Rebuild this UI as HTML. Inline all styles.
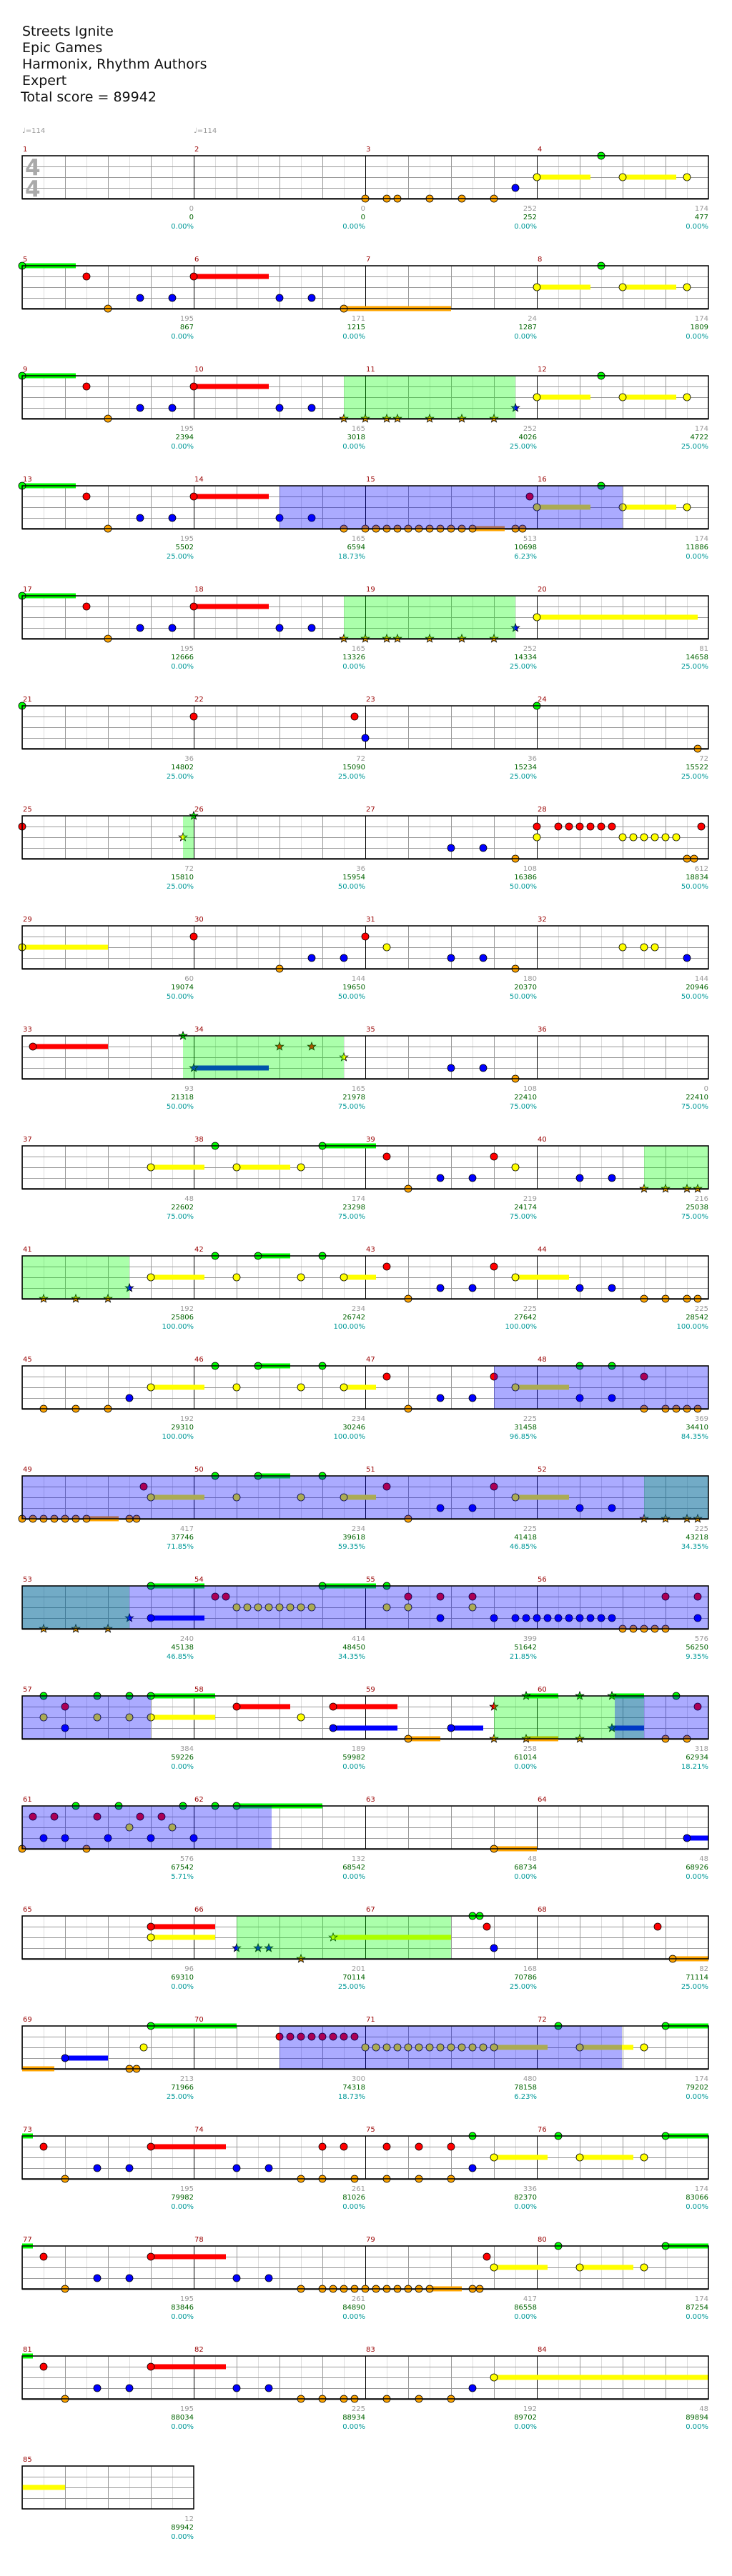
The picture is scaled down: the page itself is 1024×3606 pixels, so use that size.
<!DOCTYPE html>
<html><head><meta charset="utf-8">
<style>
html,body{margin:0;padding:0;background:#fff}
svg{display:block}
text{font-family:"DejaVu Sans","Liberation Sans",sans-serif;font-size:10px}
.t{font-size:19px;fill:#111}
.m{fill:#990000}
.a{fill:#999;text-anchor:end}
.c{fill:#006400;text-anchor:end}
.p{fill:#009999;text-anchor:end}
.g{fill:#00ff00}.r{fill:#ff0000}.y{fill:#ffff00}.b{fill:#0000ff}.o{fill:#ffa500}
circle,use{stroke:#000;stroke-width:0.8}
rect.g,rect.r,rect.y,rect.b,rect.o{stroke:none}
.GA{fill:rgba(0,255,0,0.33)}
.BA{fill:rgba(0,0,255,0.33)}
</style></head><body>
<svg width="1024" height="3606" viewBox="0 0 1024 3606" xmlns="http://www.w3.org/2000/svg">
<defs>
<pattern id="gp" x="31" y="0" width="60" height="15" patternUnits="userSpaceOnUse">
<rect x="30" y="0" width="1" height="15" fill="#ddd"/>
<rect x="0" y="0" width="1" height="15" fill="#999"/>
<rect x="0" y="0" width="60" height="1" fill="#999"/>
</pattern>
<g id="G4"><rect x="31" y="0" width="960" height="61" fill="url(#gp)"/><path d="M271.5 0V60M511.5 0V60M751.5 0V60" stroke="#000" stroke-width="1"/></g>
<rect id="B4" x="31" y="0" width="960" height="60" fill="none" stroke="#000" stroke-width="1.5"/>
<polygon id="s" points="0,-6 1.47,-2.02 5.71,-1.85 2.38,0.77 3.53,4.85 0,2.5 -3.53,4.85 -2.38,0.77 -5.71,-1.85 -1.47,-2.02"/>
</defs>

<text class="t" x="31" y="50">Streets Ignite</text>
<text class="t" x="31" y="73">Epic Games</text>
<text class="t" x="31" y="96">Harmonix, Rhythm Authors</text>
<text class="t" x="31" y="119">Expert</text>
<text class="t" x="29" y="142">Total score = 89942</text>
<text x="31" y="186" fill="#999">♩=114</text>
<text x="271" y="186" fill="#999">♩=114</text>

<!-- Row 0 -->
<g transform="translate(0,218)">
<use href="#G4"/>
<text x="35" y="27" style="font-size:31px;font-weight:bold;fill:#aaa">4</text>
<text x="35" y="57" style="font-size:31px;font-weight:bold;fill:#aaa">4</text>
<rect class="y" x="751" y="26.5" width="75" height="7"/><rect class="y" x="871" y="26.5" width="75" height="7"/>
<circle class="o" cx="511" cy="60" r="5"/><circle class="o" cx="541" cy="60" r="5"/><circle class="o" cx="556" cy="60" r="5"/><circle class="o" cx="601" cy="60" r="5"/><circle class="o" cx="646" cy="60" r="5"/><circle class="o" cx="691" cy="60" r="5"/>
<circle class="b" cx="721" cy="45" r="5"/><circle class="y" cx="751" cy="30" r="5"/><circle class="g" cx="841" cy="0" r="5"/><circle class="y" cx="871" cy="30" r="5"/><circle class="y" cx="961" cy="30" r="5"/>
<use href="#B4"/>
<text class="m" x="32" y="-6">1</text><text class="m" x="272" y="-6">2</text><text class="m" x="512" y="-6">3</text><text class="m" x="752" y="-6">4</text>
<text class="a" x="271" y="77">0</text><text class="c" x="271" y="89">0</text><text class="p" x="271" y="102">0.00%</text>
<text class="a" x="511" y="77">0</text><text class="c" x="511" y="89">0</text><text class="p" x="511" y="102">0.00%</text>
<text class="a" x="751" y="77">252</text><text class="c" x="751" y="89">252</text><text class="p" x="751" y="102">0.00%</text>
<text class="a" x="991" y="77">174</text><text class="c" x="991" y="89">477</text><text class="p" x="991" y="102">0.00%</text>
</g>

<!-- Row 1 -->
<g transform="translate(0,372)">
<use href="#G4"/>
<rect class="g" x="31" y="-3.5" width="75" height="7"/><rect class="r" x="271" y="11.5" width="105" height="7"/><rect class="o" x="481" y="56.5" width="150" height="7"/>
<rect class="y" x="751" y="26.5" width="75" height="7"/><rect class="y" x="871" y="26.5" width="75" height="7"/>
<circle class="g" cx="31" cy="0" r="5"/><circle class="r" cx="121" cy="15" r="5"/><circle class="o" cx="151" cy="60" r="5"/><circle class="b" cx="196" cy="45" r="5"/><circle class="b" cx="241" cy="45" r="5"/>
<circle class="r" cx="271" cy="15" r="5"/><circle class="b" cx="391" cy="45" r="5"/><circle class="b" cx="436" cy="45" r="5"/><circle class="o" cx="481" cy="60" r="5"/>
<circle class="y" cx="751" cy="30" r="5"/><circle class="g" cx="841" cy="0" r="5"/><circle class="y" cx="871" cy="30" r="5"/><circle class="y" cx="961" cy="30" r="5"/>
<use href="#B4"/>
<text class="m" x="32" y="-6">5</text><text class="m" x="272" y="-6">6</text><text class="m" x="512" y="-6">7</text><text class="m" x="752" y="-6">8</text>
<text class="a" x="271" y="77">195</text><text class="c" x="271" y="89">867</text><text class="p" x="271" y="102">0.00%</text>
<text class="a" x="511" y="77">171</text><text class="c" x="511" y="89">1215</text><text class="p" x="511" y="102">0.00%</text>
<text class="a" x="751" y="77">24</text><text class="c" x="751" y="89">1287</text><text class="p" x="751" y="102">0.00%</text>
<text class="a" x="991" y="77">174</text><text class="c" x="991" y="89">1809</text><text class="p" x="991" y="102">0.00%</text>
</g>

<!-- Row 2 -->
<g transform="translate(0,526)">
<use href="#G4"/>
<rect class="g" x="31" y="-3.5" width="75" height="7"/><rect class="r" x="271" y="11.5" width="105" height="7"/>
<rect class="y" x="751" y="26.5" width="75" height="7"/><rect class="y" x="871" y="26.5" width="75" height="7"/>
<circle class="g" cx="31" cy="0" r="5"/><circle class="r" cx="121" cy="15" r="5"/><circle class="o" cx="151" cy="60" r="5"/><circle class="b" cx="196" cy="45" r="5"/><circle class="b" cx="241" cy="45" r="5"/>
<circle class="r" cx="271" cy="15" r="5"/><circle class="b" cx="391" cy="45" r="5"/><circle class="b" cx="436" cy="45" r="5"/>
<use href="#s" class="o" x="481" y="60"/><use href="#s" class="o" x="511" y="60"/><use href="#s" class="o" x="541" y="60"/><use href="#s" class="o" x="556" y="60"/><use href="#s" class="o" x="601" y="60"/><use href="#s" class="o" x="646" y="60"/><use href="#s" class="o" x="691" y="60"/><use href="#s" class="b" x="721" y="45"/>
<circle class="y" cx="751" cy="30" r="5"/><circle class="g" cx="841" cy="0" r="5"/><circle class="y" cx="871" cy="30" r="5"/><circle class="y" cx="961" cy="30" r="5"/>
<rect class="GA" x="481" y="0" width="240" height="60"/>
<use href="#B4"/>
<text class="m" x="32" y="-6">9</text><text class="m" x="272" y="-6">10</text><text class="m" x="512" y="-6">11</text><text class="m" x="752" y="-6">12</text>
<text class="a" x="271" y="77">195</text><text class="c" x="271" y="89">2394</text><text class="p" x="271" y="102">0.00%</text>
<text class="a" x="511" y="77">165</text><text class="c" x="511" y="89">3018</text><text class="p" x="511" y="102">0.00%</text>
<text class="a" x="751" y="77">252</text><text class="c" x="751" y="89">4026</text><text class="p" x="751" y="102">25.00%</text>
<text class="a" x="991" y="77">174</text><text class="c" x="991" y="89">4722</text><text class="p" x="991" y="102">25.00%</text>
</g>

<!-- Row 3 -->
<g transform="translate(0,680)">
<use href="#G4"/>
<rect class="g" x="31" y="-3.5" width="75" height="7"/><rect class="r" x="271" y="11.5" width="105" height="7"/><rect class="o" x="661" y="56.5" width="45" height="7"/>
<rect class="y" x="751" y="26.5" width="75" height="7"/><rect class="y" x="871" y="26.5" width="75" height="7"/>
<circle class="g" cx="31" cy="0" r="5"/><circle class="r" cx="121" cy="15" r="5"/><circle class="o" cx="151" cy="60" r="5"/><circle class="b" cx="196" cy="45" r="5"/><circle class="b" cx="241" cy="45" r="5"/>
<circle class="r" cx="271" cy="15" r="5"/><circle class="b" cx="391" cy="45" r="5"/><circle class="b" cx="436" cy="45" r="5"/>
<circle class="o" cx="481" cy="60" r="5"/><circle class="o" cx="511" cy="60" r="5"/><circle class="o" cx="526" cy="60" r="5"/><circle class="o" cx="541" cy="60" r="5"/><circle class="o" cx="556" cy="60" r="5"/><circle class="o" cx="571" cy="60" r="5"/><circle class="o" cx="586" cy="60" r="5"/><circle class="o" cx="601" cy="60" r="5"/><circle class="o" cx="616" cy="60" r="5"/><circle class="o" cx="631" cy="60" r="5"/><circle class="o" cx="646" cy="60" r="5"/><circle class="o" cx="661" cy="60" r="5"/><circle class="o" cx="721" cy="60" r="5"/><circle class="o" cx="731" cy="60" r="5"/>
<circle class="r" cx="741" cy="15" r="5"/>
<circle class="y" cx="751" cy="30" r="5"/><circle class="g" cx="841" cy="0" r="5"/><circle class="y" cx="871" cy="30" r="5"/><circle class="y" cx="961" cy="30" r="5"/>
<rect class="BA" x="391" y="0" width="480" height="60"/>
<use href="#B4"/>
<text class="m" x="32" y="-6">13</text><text class="m" x="272" y="-6">14</text><text class="m" x="512" y="-6">15</text><text class="m" x="752" y="-6">16</text>
<text class="a" x="271" y="77">195</text><text class="c" x="271" y="89">5502</text><text class="p" x="271" y="102">25.00%</text>
<text class="a" x="511" y="77">165</text><text class="c" x="511" y="89">6594</text><text class="p" x="511" y="102">18.73%</text>
<text class="a" x="751" y="77">513</text><text class="c" x="751" y="89">10698</text><text class="p" x="751" y="102">6.23%</text>
<text class="a" x="991" y="77">174</text><text class="c" x="991" y="89">11886</text><text class="p" x="991" y="102">0.00%</text>
</g>

<!-- Row 4 -->
<g transform="translate(0,834)">
<use href="#G4"/>
<rect class="g" x="31" y="-3.5" width="75" height="7"/><rect class="r" x="271" y="11.5" width="105" height="7"/>
<rect class="y" x="751" y="26.5" width="225" height="7"/>
<circle class="g" cx="31" cy="0" r="5"/><circle class="r" cx="121" cy="15" r="5"/><circle class="o" cx="151" cy="60" r="5"/><circle class="b" cx="196" cy="45" r="5"/><circle class="b" cx="241" cy="45" r="5"/>
<circle class="r" cx="271" cy="15" r="5"/><circle class="b" cx="391" cy="45" r="5"/><circle class="b" cx="436" cy="45" r="5"/>
<use href="#s" class="o" x="481" y="60"/><use href="#s" class="o" x="511" y="60"/><use href="#s" class="o" x="541" y="60"/><use href="#s" class="o" x="556" y="60"/><use href="#s" class="o" x="601" y="60"/><use href="#s" class="o" x="646" y="60"/><use href="#s" class="o" x="691" y="60"/><use href="#s" class="b" x="721" y="45"/>
<circle class="y" cx="751" cy="30" r="5"/>
<rect class="GA" x="481" y="0" width="240" height="60"/>
<use href="#B4"/>
<text class="m" x="32" y="-6">17</text><text class="m" x="272" y="-6">18</text><text class="m" x="512" y="-6">19</text><text class="m" x="752" y="-6">20</text>
<text class="a" x="271" y="77">195</text><text class="c" x="271" y="89">12666</text><text class="p" x="271" y="102">0.00%</text>
<text class="a" x="511" y="77">165</text><text class="c" x="511" y="89">13326</text><text class="p" x="511" y="102">0.00%</text>
<text class="a" x="751" y="77">252</text><text class="c" x="751" y="89">14334</text><text class="p" x="751" y="102">25.00%</text>
<text class="a" x="991" y="77">81</text><text class="c" x="991" y="89">14658</text><text class="p" x="991" y="102">25.00%</text>
</g>

<!-- Row 5 -->
<g transform="translate(0,988)">
<use href="#G4"/>
<circle class="g" cx="31" cy="0" r="5"/><circle class="r" cx="271" cy="15" r="5"/><circle class="r" cx="496" cy="15" r="5"/><circle class="b" cx="511" cy="45" r="5"/><circle class="g" cx="751" cy="0" r="5"/><circle class="o" cx="976" cy="60" r="5"/>
<use href="#B4"/>
<text class="m" x="32" y="-6">21</text><text class="m" x="272" y="-6">22</text><text class="m" x="512" y="-6">23</text><text class="m" x="752" y="-6">24</text>
<text class="a" x="271" y="77">36</text><text class="c" x="271" y="89">14802</text><text class="p" x="271" y="102">25.00%</text>
<text class="a" x="511" y="77">72</text><text class="c" x="511" y="89">15090</text><text class="p" x="511" y="102">25.00%</text>
<text class="a" x="751" y="77">36</text><text class="c" x="751" y="89">15234</text><text class="p" x="751" y="102">25.00%</text>
<text class="a" x="991" y="77">72</text><text class="c" x="991" y="89">15522</text><text class="p" x="991" y="102">25.00%</text>
</g>

<!-- Row 6 -->
<g transform="translate(0,1142)">
<use href="#G4"/>
<circle class="r" cx="31" cy="15" r="5"/>
<use href="#s" class="y" x="256" y="30"/><use href="#s" class="g" x="271" y="0"/>
<circle class="b" cx="631" cy="45" r="5"/><circle class="b" cx="676" cy="45" r="5"/><circle class="o" cx="721" cy="60" r="5"/>
<circle class="r" cx="751" cy="15" r="5"/><circle class="r" cx="781" cy="15" r="5"/><circle class="r" cx="796" cy="15" r="5"/><circle class="r" cx="811" cy="15" r="5"/><circle class="r" cx="826" cy="15" r="5"/><circle class="r" cx="841" cy="15" r="5"/><circle class="r" cx="856" cy="15" r="5"/><circle class="r" cx="981" cy="15" r="5"/>
<circle class="y" cx="751" cy="30" r="5"/><circle class="y" cx="871" cy="30" r="5"/><circle class="y" cx="886" cy="30" r="5"/><circle class="y" cx="901" cy="30" r="5"/><circle class="y" cx="916" cy="30" r="5"/><circle class="y" cx="931" cy="30" r="5"/><circle class="y" cx="946" cy="30" r="5"/>
<circle class="o" cx="961" cy="60" r="5"/><circle class="o" cx="971" cy="60" r="5"/>
<rect class="GA" x="256" y="0" width="15" height="60"/>
<use href="#B4"/>
<text class="m" x="32" y="-6">25</text><text class="m" x="272" y="-6">26</text><text class="m" x="512" y="-6">27</text><text class="m" x="752" y="-6">28</text>
<text class="a" x="271" y="77">72</text><text class="c" x="271" y="89">15810</text><text class="p" x="271" y="102">25.00%</text>
<text class="a" x="511" y="77">36</text><text class="c" x="511" y="89">15954</text><text class="p" x="511" y="102">50.00%</text>
<text class="a" x="751" y="77">108</text><text class="c" x="751" y="89">16386</text><text class="p" x="751" y="102">50.00%</text>
<text class="a" x="991" y="77">612</text><text class="c" x="991" y="89">18834</text><text class="p" x="991" y="102">50.00%</text>
</g>

<!-- Row 7 -->
<g transform="translate(0,1296)">
<use href="#G4"/>
<rect class="y" x="31" y="26.5" width="120" height="7"/>
<circle class="y" cx="31" cy="30" r="5"/><circle class="r" cx="271" cy="15" r="5"/><circle class="o" cx="391" cy="60" r="5"/><circle class="b" cx="436" cy="45" r="5"/><circle class="b" cx="481" cy="45" r="5"/>
<circle class="r" cx="511" cy="15" r="5"/><circle class="y" cx="541" cy="30" r="5"/><circle class="b" cx="631" cy="45" r="5"/><circle class="b" cx="676" cy="45" r="5"/><circle class="o" cx="721" cy="60" r="5"/>
<circle class="y" cx="871" cy="30" r="5"/><circle class="y" cx="901" cy="30" r="5"/><circle class="y" cx="916" cy="30" r="5"/><circle class="b" cx="961" cy="45" r="5"/>
<use href="#B4"/>
<text class="m" x="32" y="-6">29</text><text class="m" x="272" y="-6">30</text><text class="m" x="512" y="-6">31</text><text class="m" x="752" y="-6">32</text>
<text class="a" x="271" y="77">60</text><text class="c" x="271" y="89">19074</text><text class="p" x="271" y="102">50.00%</text>
<text class="a" x="511" y="77">144</text><text class="c" x="511" y="89">19650</text><text class="p" x="511" y="102">50.00%</text>
<text class="a" x="751" y="77">180</text><text class="c" x="751" y="89">20370</text><text class="p" x="751" y="102">50.00%</text>
<text class="a" x="991" y="77">144</text><text class="c" x="991" y="89">20946</text><text class="p" x="991" y="102">50.00%</text>
</g>

<!-- Row 8 -->
<g transform="translate(0,1450)">
<use href="#G4"/>
<rect class="r" x="46" y="11.5" width="105" height="7"/><rect class="b" x="271" y="41.5" width="105" height="7"/>
<circle class="r" cx="46" cy="15" r="5"/>
<use href="#s" class="g" x="256" y="0"/><use href="#s" class="b" x="271" y="45"/><use href="#s" class="r" x="391" y="15"/><use href="#s" class="r" x="436" y="15"/><use href="#s" class="y" x="481" y="30"/>
<circle class="b" cx="631" cy="45" r="5"/><circle class="b" cx="676" cy="45" r="5"/><circle class="o" cx="721" cy="60" r="5"/>
<rect class="GA" x="256" y="0" width="225" height="60"/>
<use href="#B4"/>
<text class="m" x="32" y="-6">33</text><text class="m" x="272" y="-6">34</text><text class="m" x="512" y="-6">35</text><text class="m" x="752" y="-6">36</text>
<text class="a" x="271" y="77">93</text><text class="c" x="271" y="89">21318</text><text class="p" x="271" y="102">50.00%</text>
<text class="a" x="511" y="77">165</text><text class="c" x="511" y="89">21978</text><text class="p" x="511" y="102">75.00%</text>
<text class="a" x="751" y="77">108</text><text class="c" x="751" y="89">22410</text><text class="p" x="751" y="102">75.00%</text>
<text class="a" x="991" y="77">0</text><text class="c" x="991" y="89">22410</text><text class="p" x="991" y="102">75.00%</text>
</g>

<!-- Row 9 -->
<g transform="translate(0,1604)">
<use href="#G4"/>
<rect class="y" x="211" y="26.5" width="75" height="7"/><rect class="y" x="331" y="26.5" width="75" height="7"/><rect class="g" x="451" y="-3.5" width="75" height="7"/>
<circle class="y" cx="211" cy="30" r="5"/><circle class="g" cx="301" cy="0" r="5"/><circle class="y" cx="331" cy="30" r="5"/><circle class="y" cx="421" cy="30" r="5"/><circle class="g" cx="451" cy="0" r="5"/>
<circle class="r" cx="541" cy="15" r="5"/><circle class="o" cx="571" cy="60" r="5"/><circle class="b" cx="616" cy="45" r="5"/><circle class="b" cx="661" cy="45" r="5"/><circle class="r" cx="691" cy="15" r="5"/><circle class="y" cx="721" cy="30" r="5"/>
<circle class="b" cx="811" cy="45" r="5"/><circle class="b" cx="856" cy="45" r="5"/>
<use href="#s" class="o" x="901" y="60"/><use href="#s" class="o" x="931" y="60"/><use href="#s" class="o" x="961" y="60"/><use href="#s" class="o" x="976" y="60"/>
<rect class="GA" x="901" y="0" width="90" height="60"/>
<use href="#B4"/>
<text class="m" x="32" y="-6">37</text><text class="m" x="272" y="-6">38</text><text class="m" x="512" y="-6">39</text><text class="m" x="752" y="-6">40</text>
<text class="a" x="271" y="77">48</text><text class="c" x="271" y="89">22602</text><text class="p" x="271" y="102">75.00%</text>
<text class="a" x="511" y="77">174</text><text class="c" x="511" y="89">23298</text><text class="p" x="511" y="102">75.00%</text>
<text class="a" x="751" y="77">219</text><text class="c" x="751" y="89">24174</text><text class="p" x="751" y="102">75.00%</text>
<text class="a" x="991" y="77">216</text><text class="c" x="991" y="89">25038</text><text class="p" x="991" y="102">75.00%</text>
</g>

<!-- Row 10 -->
<g transform="translate(0,1758)">
<use href="#G4"/>
<rect class="y" x="211" y="26.5" width="75" height="7"/><rect class="g" x="361" y="-3.5" width="45" height="7"/><rect class="y" x="481" y="26.5" width="45" height="7"/><rect class="y" x="721" y="26.5" width="75" height="7"/>
<use href="#s" class="o" x="61" y="60"/><use href="#s" class="o" x="106" y="60"/><use href="#s" class="o" x="151" y="60"/><use href="#s" class="b" x="181" y="45"/>
<circle class="y" cx="211" cy="30" r="5"/><circle class="g" cx="301" cy="0" r="5"/><circle class="y" cx="331" cy="30" r="5"/><circle class="g" cx="361" cy="0" r="5"/><circle class="y" cx="421" cy="30" r="5"/><circle class="g" cx="451" cy="0" r="5"/><circle class="y" cx="481" cy="30" r="5"/>
<circle class="r" cx="541" cy="15" r="5"/><circle class="o" cx="571" cy="60" r="5"/><circle class="b" cx="616" cy="45" r="5"/><circle class="b" cx="661" cy="45" r="5"/><circle class="r" cx="691" cy="15" r="5"/><circle class="y" cx="721" cy="30" r="5"/>
<circle class="b" cx="811" cy="45" r="5"/><circle class="b" cx="856" cy="45" r="5"/>
<circle class="o" cx="901" cy="60" r="5"/><circle class="o" cx="931" cy="60" r="5"/><circle class="o" cx="961" cy="60" r="5"/><circle class="o" cx="976" cy="60" r="5"/>
<rect class="GA" x="31" y="0" width="150" height="60"/>
<use href="#B4"/>
<text class="m" x="32" y="-6">41</text><text class="m" x="272" y="-6">42</text><text class="m" x="512" y="-6">43</text><text class="m" x="752" y="-6">44</text>
<text class="a" x="271" y="77">192</text><text class="c" x="271" y="89">25806</text><text class="p" x="271" y="102">100.00%</text>
<text class="a" x="511" y="77">234</text><text class="c" x="511" y="89">26742</text><text class="p" x="511" y="102">100.00%</text>
<text class="a" x="751" y="77">225</text><text class="c" x="751" y="89">27642</text><text class="p" x="751" y="102">100.00%</text>
<text class="a" x="991" y="77">225</text><text class="c" x="991" y="89">28542</text><text class="p" x="991" y="102">100.00%</text>
</g>

<!-- Row 11 -->
<g transform="translate(0,1912)">
<use href="#G4"/>
<rect class="y" x="211" y="26.5" width="75" height="7"/><rect class="g" x="361" y="-3.5" width="45" height="7"/><rect class="y" x="481" y="26.5" width="45" height="7"/><rect class="y" x="721" y="26.5" width="75" height="7"/>
<circle class="o" cx="61" cy="60" r="5"/><circle class="o" cx="106" cy="60" r="5"/><circle class="o" cx="151" cy="60" r="5"/><circle class="b" cx="181" cy="45" r="5"/>
<circle class="y" cx="211" cy="30" r="5"/><circle class="g" cx="301" cy="0" r="5"/><circle class="y" cx="331" cy="30" r="5"/><circle class="g" cx="361" cy="0" r="5"/><circle class="y" cx="421" cy="30" r="5"/><circle class="g" cx="451" cy="0" r="5"/><circle class="y" cx="481" cy="30" r="5"/>
<circle class="r" cx="541" cy="15" r="5"/><circle class="o" cx="571" cy="60" r="5"/><circle class="b" cx="616" cy="45" r="5"/><circle class="b" cx="661" cy="45" r="5"/><circle class="r" cx="691" cy="15" r="5"/><circle class="y" cx="721" cy="30" r="5"/>
<circle class="g" cx="811" cy="0" r="5"/><circle class="g" cx="856" cy="0" r="5"/><circle class="b" cx="811" cy="45" r="5"/><circle class="b" cx="856" cy="45" r="5"/><circle class="r" cx="901" cy="15" r="5"/>
<circle class="o" cx="901" cy="60" r="5"/><circle class="o" cx="931" cy="60" r="5"/><circle class="o" cx="946" cy="60" r="5"/><circle class="o" cx="961" cy="60" r="5"/><circle class="o" cx="976" cy="60" r="5"/>
<rect class="BA" x="691" y="0" width="300" height="60"/>
<use href="#B4"/>
<text class="m" x="32" y="-6">45</text><text class="m" x="272" y="-6">46</text><text class="m" x="512" y="-6">47</text><text class="m" x="752" y="-6">48</text>
<text class="a" x="271" y="77">192</text><text class="c" x="271" y="89">29310</text><text class="p" x="271" y="102">100.00%</text>
<text class="a" x="511" y="77">234</text><text class="c" x="511" y="89">30246</text><text class="p" x="511" y="102">100.00%</text>
<text class="a" x="751" y="77">225</text><text class="c" x="751" y="89">31458</text><text class="p" x="751" y="102">96.85%</text>
<text class="a" x="991" y="77">369</text><text class="c" x="991" y="89">34410</text><text class="p" x="991" y="102">84.35%</text>
</g>

<!-- Row 12 -->
<g transform="translate(0,2066)">
<use href="#G4"/>
<rect class="o" x="121" y="56.5" width="45" height="7"/>
<rect class="y" x="211" y="26.5" width="75" height="7"/><rect class="g" x="361" y="-3.5" width="45" height="7"/><rect class="y" x="481" y="26.5" width="45" height="7"/><rect class="y" x="721" y="26.5" width="75" height="7"/>
<circle class="o" cx="31" cy="60" r="5"/><circle class="o" cx="46" cy="60" r="5"/><circle class="o" cx="61" cy="60" r="5"/><circle class="o" cx="76" cy="60" r="5"/><circle class="o" cx="91" cy="60" r="5"/><circle class="o" cx="106" cy="60" r="5"/><circle class="o" cx="121" cy="60" r="5"/><circle class="o" cx="181" cy="60" r="5"/><circle class="o" cx="191" cy="60" r="5"/><circle class="r" cx="201" cy="15" r="5"/>
<circle class="y" cx="211" cy="30" r="5"/><circle class="g" cx="301" cy="0" r="5"/><circle class="y" cx="331" cy="30" r="5"/><circle class="g" cx="361" cy="0" r="5"/><circle class="y" cx="421" cy="30" r="5"/><circle class="g" cx="451" cy="0" r="5"/><circle class="y" cx="481" cy="30" r="5"/>
<circle class="r" cx="541" cy="15" r="5"/><circle class="o" cx="571" cy="60" r="5"/><circle class="b" cx="616" cy="45" r="5"/><circle class="b" cx="661" cy="45" r="5"/><circle class="r" cx="691" cy="15" r="5"/><circle class="y" cx="721" cy="30" r="5"/>
<circle class="b" cx="811" cy="45" r="5"/><circle class="b" cx="856" cy="45" r="5"/>
<use href="#s" class="o" x="901" y="60"/><use href="#s" class="o" x="931" y="60"/><use href="#s" class="o" x="961" y="60"/><use href="#s" class="o" x="976" y="60"/>
<rect class="GA" x="901" y="0" width="90" height="60"/><rect class="BA" x="31" y="0" width="960" height="60"/>
<use href="#B4"/>
<text class="m" x="32" y="-6">49</text><text class="m" x="272" y="-6">50</text><text class="m" x="512" y="-6">51</text><text class="m" x="752" y="-6">52</text>
<text class="a" x="271" y="77">417</text><text class="c" x="271" y="89">37746</text><text class="p" x="271" y="102">71.85%</text>
<text class="a" x="511" y="77">234</text><text class="c" x="511" y="89">39618</text><text class="p" x="511" y="102">59.35%</text>
<text class="a" x="751" y="77">225</text><text class="c" x="751" y="89">41418</text><text class="p" x="751" y="102">46.85%</text>
<text class="a" x="991" y="77">225</text><text class="c" x="991" y="89">43218</text><text class="p" x="991" y="102">34.35%</text>
</g>

<!-- Row 13 -->
<g transform="translate(0,2220)">
<use href="#G4"/>
<rect class="g" x="211" y="-3.5" width="75" height="7"/><rect class="b" x="211" y="41.5" width="75" height="7"/><rect class="g" x="451" y="-3.5" width="75" height="7"/>
<use href="#s" class="o" x="61" y="60"/><use href="#s" class="o" x="106" y="60"/><use href="#s" class="o" x="151" y="60"/><use href="#s" class="b" x="181" y="45"/>
<circle class="g" cx="211" cy="0" r="5"/><circle class="b" cx="211" cy="45" r="5"/><circle class="r" cx="301" cy="15" r="5"/><circle class="r" cx="316" cy="15" r="5"/>
<circle class="y" cx="331" cy="30" r="5"/><circle class="y" cx="346" cy="30" r="5"/><circle class="y" cx="361" cy="30" r="5"/><circle class="y" cx="376" cy="30" r="5"/><circle class="y" cx="391" cy="30" r="5"/><circle class="y" cx="406" cy="30" r="5"/><circle class="y" cx="421" cy="30" r="5"/><circle class="y" cx="436" cy="30" r="5"/>
<circle class="g" cx="451" cy="0" r="5"/><circle class="g" cx="541" cy="0" r="5"/><circle class="y" cx="541" cy="30" r="5"/><circle class="y" cx="571" cy="30" r="5"/><circle class="y" cx="661" cy="30" r="5"/>
<circle class="r" cx="571" cy="15" r="5"/><circle class="r" cx="616" cy="15" r="5"/><circle class="r" cx="661" cy="15" r="5"/>
<circle class="b" cx="616" cy="45" r="5"/><circle class="b" cx="691" cy="45" r="5"/><circle class="b" cx="721" cy="45" r="5"/><circle class="b" cx="736" cy="45" r="5"/><circle class="b" cx="751" cy="45" r="5"/><circle class="b" cx="766" cy="45" r="5"/><circle class="b" cx="781" cy="45" r="5"/><circle class="b" cx="796" cy="45" r="5"/><circle class="b" cx="811" cy="45" r="5"/><circle class="b" cx="826" cy="45" r="5"/><circle class="b" cx="841" cy="45" r="5"/><circle class="b" cx="856" cy="45" r="5"/>
<circle class="o" cx="871" cy="60" r="5"/><circle class="o" cx="886" cy="60" r="5"/><circle class="o" cx="901" cy="60" r="5"/><circle class="o" cx="916" cy="60" r="5"/><circle class="o" cx="931" cy="60" r="5"/>
<circle class="r" cx="931" cy="15" r="5"/><circle class="r" cx="976" cy="15" r="5"/><circle class="b" cx="976" cy="45" r="5"/>
<rect class="GA" x="31" y="0" width="150" height="60"/><rect class="BA" x="31" y="0" width="960" height="60"/>
<use href="#B4"/>
<text class="m" x="32" y="-6">53</text><text class="m" x="272" y="-6">54</text><text class="m" x="512" y="-6">55</text><text class="m" x="752" y="-6">56</text>
<text class="a" x="271" y="77">240</text><text class="c" x="271" y="89">45138</text><text class="p" x="271" y="102">46.85%</text>
<text class="a" x="511" y="77">414</text><text class="c" x="511" y="89">48450</text><text class="p" x="511" y="102">34.35%</text>
<text class="a" x="751" y="77">399</text><text class="c" x="751" y="89">51642</text><text class="p" x="751" y="102">21.85%</text>
<text class="a" x="991" y="77">576</text><text class="c" x="991" y="89">56250</text><text class="p" x="991" y="102">9.35%</text>
</g>

<!-- Row 14 -->
<g transform="translate(0,2374)">
<use href="#G4"/>
<rect class="g" x="211" y="-3.5" width="90" height="7"/><rect class="y" x="211" y="26.5" width="90" height="7"/>
<rect class="r" x="331" y="11.5" width="75" height="7"/><rect class="r" x="466" y="11.5" width="90" height="7"/><rect class="b" x="466" y="41.5" width="90" height="7"/>
<rect class="o" x="571" y="56.5" width="45" height="7"/><rect class="b" x="631" y="41.5" width="45" height="7"/>
<rect class="g" x="736" y="-3.5" width="45" height="7"/><rect class="o" x="736" y="56.5" width="45" height="7"/><rect class="g" x="856" y="-3.5" width="45" height="7"/><rect class="b" x="856" y="41.5" width="45" height="7"/>
<circle class="g" cx="61" cy="0" r="5"/><circle class="g" cx="136" cy="0" r="5"/><circle class="g" cx="181" cy="0" r="5"/><circle class="g" cx="211" cy="0" r="5"/>
<circle class="r" cx="91" cy="15" r="5"/><circle class="y" cx="61" cy="30" r="5"/><circle class="y" cx="136" cy="30" r="5"/><circle class="y" cx="181" cy="30" r="5"/><circle class="y" cx="211" cy="30" r="5"/><circle class="b" cx="91" cy="45" r="5"/>
<circle class="r" cx="331" cy="15" r="5"/><circle class="y" cx="421" cy="30" r="5"/><circle class="r" cx="466" cy="15" r="5"/><circle class="b" cx="466" cy="45" r="5"/>
<circle class="o" cx="571" cy="60" r="5"/><circle class="b" cx="631" cy="45" r="5"/>
<use href="#s" class="r" x="691" y="15"/><use href="#s" class="o" x="691" y="60"/><use href="#s" class="g" x="736" y="0"/><use href="#s" class="o" x="736" y="60"/><use href="#s" class="g" x="811" y="0"/><use href="#s" class="o" x="811" y="60"/><use href="#s" class="g" x="856" y="0"/><use href="#s" class="b" x="856" y="45"/>
<circle class="g" cx="946" cy="0" r="5"/><circle class="r" cx="976" cy="15" r="5"/><circle class="o" cx="931" cy="60" r="5"/><circle class="o" cx="961" cy="60" r="5"/>
<rect class="BA" x="31" y="0" width="180" height="60"/><rect class="GA" x="691" y="0" width="210" height="60"/><rect class="BA" x="860" y="0" width="131" height="60"/>
<use href="#B4"/>
<text class="m" x="32" y="-6">57</text><text class="m" x="272" y="-6">58</text><text class="m" x="512" y="-6">59</text><text class="m" x="752" y="-6">60</text>
<text class="a" x="271" y="77">384</text><text class="c" x="271" y="89">59226</text><text class="p" x="271" y="102">0.00%</text>
<text class="a" x="511" y="77">189</text><text class="c" x="511" y="89">59982</text><text class="p" x="511" y="102">0.00%</text>
<text class="a" x="751" y="77">258</text><text class="c" x="751" y="89">61014</text><text class="p" x="751" y="102">0.00%</text>
<text class="a" x="991" y="77">318</text><text class="c" x="991" y="89">62934</text><text class="p" x="991" y="102">18.21%</text>
</g>

<!-- Row 15 -->
<g transform="translate(0,2528)">
<use href="#G4"/>
<rect class="g" x="331" y="-3.5" width="120" height="7"/><rect class="o" x="691" y="56.5" width="60" height="7"/><rect class="b" x="961" y="41.5" width="30" height="7"/>
<circle class="o" cx="31" cy="60" r="5"/><circle class="o" cx="121" cy="60" r="5"/>
<circle class="r" cx="46" cy="15" r="5"/><circle class="r" cx="76" cy="15" r="5"/><circle class="r" cx="136" cy="15" r="5"/><circle class="r" cx="196" cy="15" r="5"/><circle class="r" cx="226" cy="15" r="5"/>
<circle class="g" cx="106" cy="0" r="5"/><circle class="g" cx="166" cy="0" r="5"/><circle class="g" cx="256" cy="0" r="5"/><circle class="g" cx="301" cy="0" r="5"/><circle class="g" cx="331" cy="0" r="5"/>
<circle class="y" cx="181" cy="30" r="5"/><circle class="y" cx="241" cy="30" r="5"/>
<circle class="b" cx="61" cy="45" r="5"/><circle class="b" cx="91" cy="45" r="5"/><circle class="b" cx="151" cy="45" r="5"/><circle class="b" cx="211" cy="45" r="5"/><circle class="b" cx="271" cy="45" r="5"/>
<circle class="o" cx="691" cy="60" r="5"/><circle class="b" cx="961" cy="45" r="5"/>
<rect class="BA" x="31" y="0" width="349" height="60"/>
<use href="#B4"/>
<text class="m" x="32" y="-6">61</text><text class="m" x="272" y="-6">62</text><text class="m" x="512" y="-6">63</text><text class="m" x="752" y="-6">64</text>
<text class="a" x="271" y="77">576</text><text class="c" x="271" y="89">67542</text><text class="p" x="271" y="102">5.71%</text>
<text class="a" x="511" y="77">132</text><text class="c" x="511" y="89">68542</text><text class="p" x="511" y="102">0.00%</text>
<text class="a" x="751" y="77">48</text><text class="c" x="751" y="89">68734</text><text class="p" x="751" y="102">0.00%</text>
<text class="a" x="991" y="77">48</text><text class="c" x="991" y="89">68926</text><text class="p" x="991" y="102">0.00%</text>
</g>

<!-- Row 16 -->
<g transform="translate(0,2682)">
<use href="#G4"/>
<rect class="r" x="211" y="11.5" width="90" height="7"/><rect class="y" x="211" y="26.5" width="90" height="7"/><rect class="y" x="466" y="26.5" width="165" height="7"/><rect class="o" x="941" y="56.5" width="50" height="7"/>
<circle class="r" cx="211" cy="15" r="5"/><circle class="y" cx="211" cy="30" r="5"/>
<use href="#s" class="b" x="331" y="45"/><use href="#s" class="b" x="361" y="45"/><use href="#s" class="b" x="376" y="45"/><use href="#s" class="o" x="421" y="60"/><use href="#s" class="y" x="466" y="30"/>
<circle class="g" cx="661" cy="0" r="5"/><circle class="g" cx="671" cy="0" r="5"/><circle class="r" cx="681" cy="15" r="5"/><circle class="b" cx="691" cy="45" r="5"/><circle class="r" cx="920" cy="15" r="5"/><circle class="o" cx="941" cy="60" r="5"/>
<rect class="GA" x="331" y="0" width="300" height="60"/>
<use href="#B4"/>
<text class="m" x="32" y="-6">65</text><text class="m" x="272" y="-6">66</text><text class="m" x="512" y="-6">67</text><text class="m" x="752" y="-6">68</text>
<text class="a" x="271" y="77">96</text><text class="c" x="271" y="89">69310</text><text class="p" x="271" y="102">0.00%</text>
<text class="a" x="511" y="77">201</text><text class="c" x="511" y="89">70114</text><text class="p" x="511" y="102">25.00%</text>
<text class="a" x="751" y="77">168</text><text class="c" x="751" y="89">70786</text><text class="p" x="751" y="102">25.00%</text>
<text class="a" x="991" y="77">82</text><text class="c" x="991" y="89">71114</text><text class="p" x="991" y="102">25.00%</text>
</g>

<!-- Row 17 -->
<g transform="translate(0,2836)">
<use href="#G4"/>
<rect class="o" x="31" y="56.5" width="45" height="7"/><rect class="b" x="91" y="41.5" width="60" height="7"/><rect class="g" x="211" y="-3.5" width="120" height="7"/>
<rect class="y" x="691" y="26.5" width="75" height="7"/><rect class="y" x="811" y="26.5" width="75" height="7"/><rect class="g" x="931" y="-3.5" width="60" height="7"/>
<circle class="b" cx="91" cy="45" r="5"/><circle class="o" cx="181" cy="60" r="5"/><circle class="o" cx="191" cy="60" r="5"/><circle class="y" cx="201" cy="30" r="5"/><circle class="g" cx="211" cy="0" r="5"/>
<circle class="r" cx="391" cy="15" r="5"/><circle class="r" cx="406" cy="15" r="5"/><circle class="r" cx="421" cy="15" r="5"/><circle class="r" cx="436" cy="15" r="5"/><circle class="r" cx="451" cy="15" r="5"/><circle class="r" cx="466" cy="15" r="5"/><circle class="r" cx="481" cy="15" r="5"/><circle class="r" cx="496" cy="15" r="5"/>
<circle class="y" cx="511" cy="30" r="5"/><circle class="y" cx="526" cy="30" r="5"/><circle class="y" cx="541" cy="30" r="5"/><circle class="y" cx="556" cy="30" r="5"/><circle class="y" cx="571" cy="30" r="5"/><circle class="y" cx="586" cy="30" r="5"/><circle class="y" cx="601" cy="30" r="5"/><circle class="y" cx="616" cy="30" r="5"/><circle class="y" cx="631" cy="30" r="5"/><circle class="y" cx="646" cy="30" r="5"/><circle class="y" cx="661" cy="30" r="5"/><circle class="y" cx="676" cy="30" r="5"/><circle class="y" cx="691" cy="30" r="5"/>
<circle class="g" cx="781" cy="0" r="5"/><circle class="y" cx="811" cy="30" r="5"/><circle class="y" cx="901" cy="30" r="5"/><circle class="g" cx="931" cy="0" r="5"/>
<rect class="BA" x="391" y="0" width="479" height="60"/>
<use href="#B4"/>
<text class="m" x="32" y="-6">69</text><text class="m" x="272" y="-6">70</text><text class="m" x="512" y="-6">71</text><text class="m" x="752" y="-6">72</text>
<text class="a" x="271" y="77">213</text><text class="c" x="271" y="89">71966</text><text class="p" x="271" y="102">25.00%</text>
<text class="a" x="511" y="77">300</text><text class="c" x="511" y="89">74318</text><text class="p" x="511" y="102">18.73%</text>
<text class="a" x="751" y="77">480</text><text class="c" x="751" y="89">78158</text><text class="p" x="751" y="102">6.23%</text>
<text class="a" x="991" y="77">174</text><text class="c" x="991" y="89">79202</text><text class="p" x="991" y="102">0.00%</text>
</g>

<!-- Row 18 -->
<g transform="translate(0,2990)">
<use href="#G4"/>
<rect class="g" x="31" y="-3.5" width="15" height="7"/><rect class="r" x="211" y="11.5" width="105" height="7"/>
<rect class="y" x="691" y="26.5" width="75" height="7"/><rect class="y" x="811" y="26.5" width="75" height="7"/><rect class="g" x="931" y="-3.5" width="60" height="7"/>
<circle class="r" cx="61" cy="15" r="5"/><circle class="o" cx="91" cy="60" r="5"/><circle class="b" cx="136" cy="45" r="5"/><circle class="b" cx="181" cy="45" r="5"/><circle class="r" cx="211" cy="15" r="5"/>
<circle class="b" cx="331" cy="45" r="5"/><circle class="b" cx="376" cy="45" r="5"/>
<circle class="o" cx="421" cy="60" r="5"/><circle class="o" cx="451" cy="60" r="5"/><circle class="o" cx="496" cy="60" r="5"/><circle class="r" cx="451" cy="15" r="5"/><circle class="r" cx="481" cy="15" r="5"/>
<circle class="r" cx="541" cy="15" r="5"/><circle class="r" cx="586" cy="15" r="5"/><circle class="r" cx="631" cy="15" r="5"/><circle class="o" cx="541" cy="60" r="5"/><circle class="o" cx="586" cy="60" r="5"/><circle class="o" cx="631" cy="60" r="5"/>
<circle class="g" cx="661" cy="0" r="5"/><circle class="b" cx="661" cy="45" r="5"/>
<circle class="y" cx="691" cy="30" r="5"/><circle class="g" cx="781" cy="0" r="5"/><circle class="y" cx="811" cy="30" r="5"/><circle class="y" cx="901" cy="30" r="5"/><circle class="g" cx="931" cy="0" r="5"/>
<use href="#B4"/>
<text class="m" x="32" y="-6">73</text><text class="m" x="272" y="-6">74</text><text class="m" x="512" y="-6">75</text><text class="m" x="752" y="-6">76</text>
<text class="a" x="271" y="77">195</text><text class="c" x="271" y="89">79982</text><text class="p" x="271" y="102">0.00%</text>
<text class="a" x="511" y="77">261</text><text class="c" x="511" y="89">81026</text><text class="p" x="511" y="102">0.00%</text>
<text class="a" x="751" y="77">336</text><text class="c" x="751" y="89">82370</text><text class="p" x="751" y="102">0.00%</text>
<text class="a" x="991" y="77">174</text><text class="c" x="991" y="89">83066</text><text class="p" x="991" y="102">0.00%</text>
</g>

<!-- Row 19 -->
<g transform="translate(0,3144)">
<use href="#G4"/>
<rect class="g" x="31" y="-3.5" width="15" height="7"/><rect class="r" x="211" y="11.5" width="105" height="7"/><rect class="o" x="601" y="56.5" width="45" height="7"/>
<rect class="y" x="691" y="26.5" width="75" height="7"/><rect class="y" x="811" y="26.5" width="75" height="7"/><rect class="g" x="931" y="-3.5" width="60" height="7"/>
<circle class="r" cx="61" cy="15" r="5"/><circle class="o" cx="91" cy="60" r="5"/><circle class="b" cx="136" cy="45" r="5"/><circle class="b" cx="181" cy="45" r="5"/><circle class="r" cx="211" cy="15" r="5"/>
<circle class="b" cx="331" cy="45" r="5"/><circle class="b" cx="376" cy="45" r="5"/>
<circle class="o" cx="421" cy="60" r="5"/><circle class="o" cx="451" cy="60" r="5"/><circle class="o" cx="466" cy="60" r="5"/><circle class="o" cx="481" cy="60" r="5"/><circle class="o" cx="496" cy="60" r="5"/><circle class="o" cx="511" cy="60" r="5"/><circle class="o" cx="526" cy="60" r="5"/><circle class="o" cx="541" cy="60" r="5"/><circle class="o" cx="556" cy="60" r="5"/><circle class="o" cx="571" cy="60" r="5"/><circle class="o" cx="586" cy="60" r="5"/><circle class="o" cx="601" cy="60" r="5"/>
<circle class="o" cx="661" cy="60" r="5"/><circle class="o" cx="671" cy="60" r="5"/><circle class="r" cx="681" cy="15" r="5"/>
<circle class="y" cx="691" cy="30" r="5"/><circle class="g" cx="781" cy="0" r="5"/><circle class="y" cx="811" cy="30" r="5"/><circle class="y" cx="901" cy="30" r="5"/><circle class="g" cx="931" cy="0" r="5"/>
<use href="#B4"/>
<text class="m" x="32" y="-6">77</text><text class="m" x="272" y="-6">78</text><text class="m" x="512" y="-6">79</text><text class="m" x="752" y="-6">80</text>
<text class="a" x="271" y="77">195</text><text class="c" x="271" y="89">83846</text><text class="p" x="271" y="102">0.00%</text>
<text class="a" x="511" y="77">261</text><text class="c" x="511" y="89">84890</text><text class="p" x="511" y="102">0.00%</text>
<text class="a" x="751" y="77">417</text><text class="c" x="751" y="89">86558</text><text class="p" x="751" y="102">0.00%</text>
<text class="a" x="991" y="77">174</text><text class="c" x="991" y="89">87254</text><text class="p" x="991" y="102">0.00%</text>
</g>

<!-- Row 20 -->
<g transform="translate(0,3298)">
<use href="#G4"/>
<rect class="g" x="31" y="-3.5" width="15" height="7"/><rect class="r" x="211" y="11.5" width="105" height="7"/><rect class="y" x="691" y="26.5" width="300" height="7"/>
<circle class="r" cx="61" cy="15" r="5"/><circle class="o" cx="91" cy="60" r="5"/><circle class="b" cx="136" cy="45" r="5"/><circle class="b" cx="181" cy="45" r="5"/><circle class="r" cx="211" cy="15" r="5"/>
<circle class="b" cx="331" cy="45" r="5"/><circle class="b" cx="376" cy="45" r="5"/>
<circle class="o" cx="421" cy="60" r="5"/><circle class="o" cx="451" cy="60" r="5"/><circle class="o" cx="481" cy="60" r="5"/><circle class="o" cx="496" cy="60" r="5"/><circle class="o" cx="541" cy="60" r="5"/><circle class="o" cx="586" cy="60" r="5"/><circle class="o" cx="631" cy="60" r="5"/>
<circle class="b" cx="661" cy="45" r="5"/><circle class="y" cx="691" cy="30" r="5"/>
<use href="#B4"/>
<text class="m" x="32" y="-6">81</text><text class="m" x="272" y="-6">82</text><text class="m" x="512" y="-6">83</text><text class="m" x="752" y="-6">84</text>
<text class="a" x="271" y="77">195</text><text class="c" x="271" y="89">88034</text><text class="p" x="271" y="102">0.00%</text>
<text class="a" x="511" y="77">225</text><text class="c" x="511" y="89">88934</text><text class="p" x="511" y="102">0.00%</text>
<text class="a" x="751" y="77">192</text><text class="c" x="751" y="89">89702</text><text class="p" x="751" y="102">0.00%</text>
<text class="a" x="991" y="77">48</text><text class="c" x="991" y="89">89894</text><text class="p" x="991" y="102">0.00%</text>
</g>

<!-- Row 21 -->
<g transform="translate(0,3452)">
<rect x="31" y="0" width="240" height="61" fill="url(#gp)"/>
<rect class="y" x="31" y="26.5" width="60" height="7"/>
<rect x="31" y="0" width="240" height="60" fill="none" stroke="#000" stroke-width="1.5"/>
<text class="m" x="32" y="-6">85</text>
<text class="a" x="271" y="77">12</text><text class="c" x="271" y="89">89942</text><text class="p" x="271" y="102">0.00%</text>
</g>
</svg>
</body></html>
